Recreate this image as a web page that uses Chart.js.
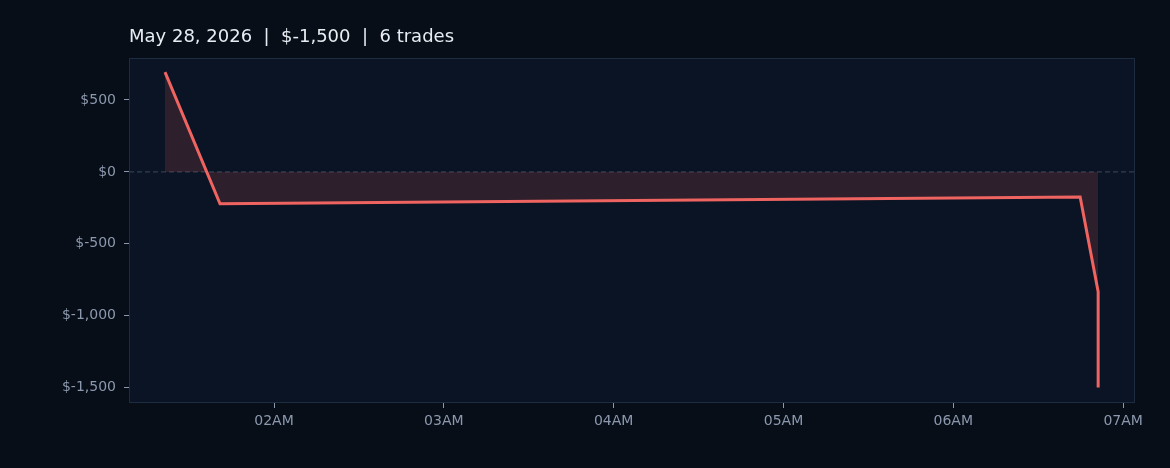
<!DOCTYPE html>
<html>
<head>
<meta charset="utf-8">
<script src="https://cdn.jsdelivr.net/npm/chart.js@4.4.1/dist/chart.umd.min.js"></script>
<style>
  html, body { margin: 0; padding: 0; background: #070e18; }
  #wrap { width: 1170px; height: 468px; position: relative; }
</style>
</head>
<body>
<div id="wrap"><canvas id="pnl"></canvas></div>
<script>
// trade times (hours of the day) and cumulative pnl
const tradeHours = [1.358, 1.682, 6.747, 6.853, 6.853]
const cumPnl = [694, -222, -174, -833, -1500]
const hourTicks = [2, 3, 4, 5, 6, 7]
const yTicks = [500, 0, -500, -1000, -1500]
const titleText = 'May 28, 2026  |  $-1,500  |  6 trades'

const points = tradeHours.map((h, i) => ({x: h, y: cumPnl[i]}))

const frame = {
    id: 'frame',
    beforeDraw(chart) {
        const {ctx, chartArea: a} = chart
        ctx.save()
        ctx.fillStyle = '#0b1424'
        ctx.fillRect(a.left, a.top, a.right - a.left, a.bottom - a.top)
        // zero line
        const y0 = chart.scales.y.getPixelForValue(0)
        ctx.strokeStyle = '#3b4759'
        ctx.lineWidth = 1
        ctx.setLineDash([5, 3])
        ctx.beginPath()
        ctx.moveTo(a.left, y0)
        ctx.lineTo(a.right, y0)
        ctx.stroke()
        ctx.restore()
    },
    afterDraw(chart) {
        const {ctx, chartArea: a} = chart
        ctx.save()
        ctx.strokeStyle = '#1e2c42'
        ctx.lineWidth = 1
        ctx.strokeRect(a.left + 0.5, a.top + 0.5, a.right - a.left - 1, a.bottom - a.top - 1)
        ctx.fillStyle = '#e8edf3'
        ctx.font = '18px "DejaVu Sans"'
        ctx.textBaseline = 'alphabetic'
        ctx.fillText(titleText, a.left, 42)
        ctx.restore()
    }
}

new Chart(document.getElementById('pnl'), {
    type: 'line',
    data: {
        datasets: [{
            data: points,
            borderColor: '#ef6461',
            borderWidth: 3,
            backgroundColor: 'rgba(239,100,97,0.15)',
            fill: 'origin',
            pointRadius: 0,
            tension: 0,
        }]
    },
    options: {
        responsive: true,
        maintainAspectRatio: false,
        animation: false,
        layout: {padding: {left: 0, right: 35, top: 58, bottom: 0}},
        plugins: {legend: {display: false}, tooltip: {enabled: false}},
        scales: {
            x: {
                type: 'linear',
                min: 1.146,
                max: 7.07,
                afterBuildTicks(scale) {
                    scale.ticks = hourTicks.map(v => ({value: v}))
                },
                afterFit(scale) { scale.height = 65 },
                grid: {drawOnChartArea: false, tickLength: 5, tickColor: '#8b98ad', drawTicks: true},
                border: {display: false},
                ticks: {
                    color: '#8b98ad',
                    font: {family: 'DejaVu Sans', size: 14},
                    padding: 5,
                    maxRotation: 0,
                    callback: v => String(v).padStart(2, '0') + 'AM'
                }
            },
            y: {
                min: -1607,
                max: 792,
                afterBuildTicks(scale) {
                    scale.ticks = yTicks.map(v => ({value: v}))
                },
                afterFit(scale) { scale.width = 129 },
                grid: {drawOnChartArea: false, tickLength: 5, tickColor: '#8b98ad'},
                border: {display: false},
                ticks: {
                    color: '#8b98ad',
                    font: {family: 'DejaVu Sans', size: 14},
                    padding: 8,
                    callback: v => v < 0 ? '$-' + Math.abs(v).toLocaleString('en-US') : '$' + v.toLocaleString('en-US')
                }
            }
        }
    },
    plugins: [frame]
})
</script>
</body>
</html>
